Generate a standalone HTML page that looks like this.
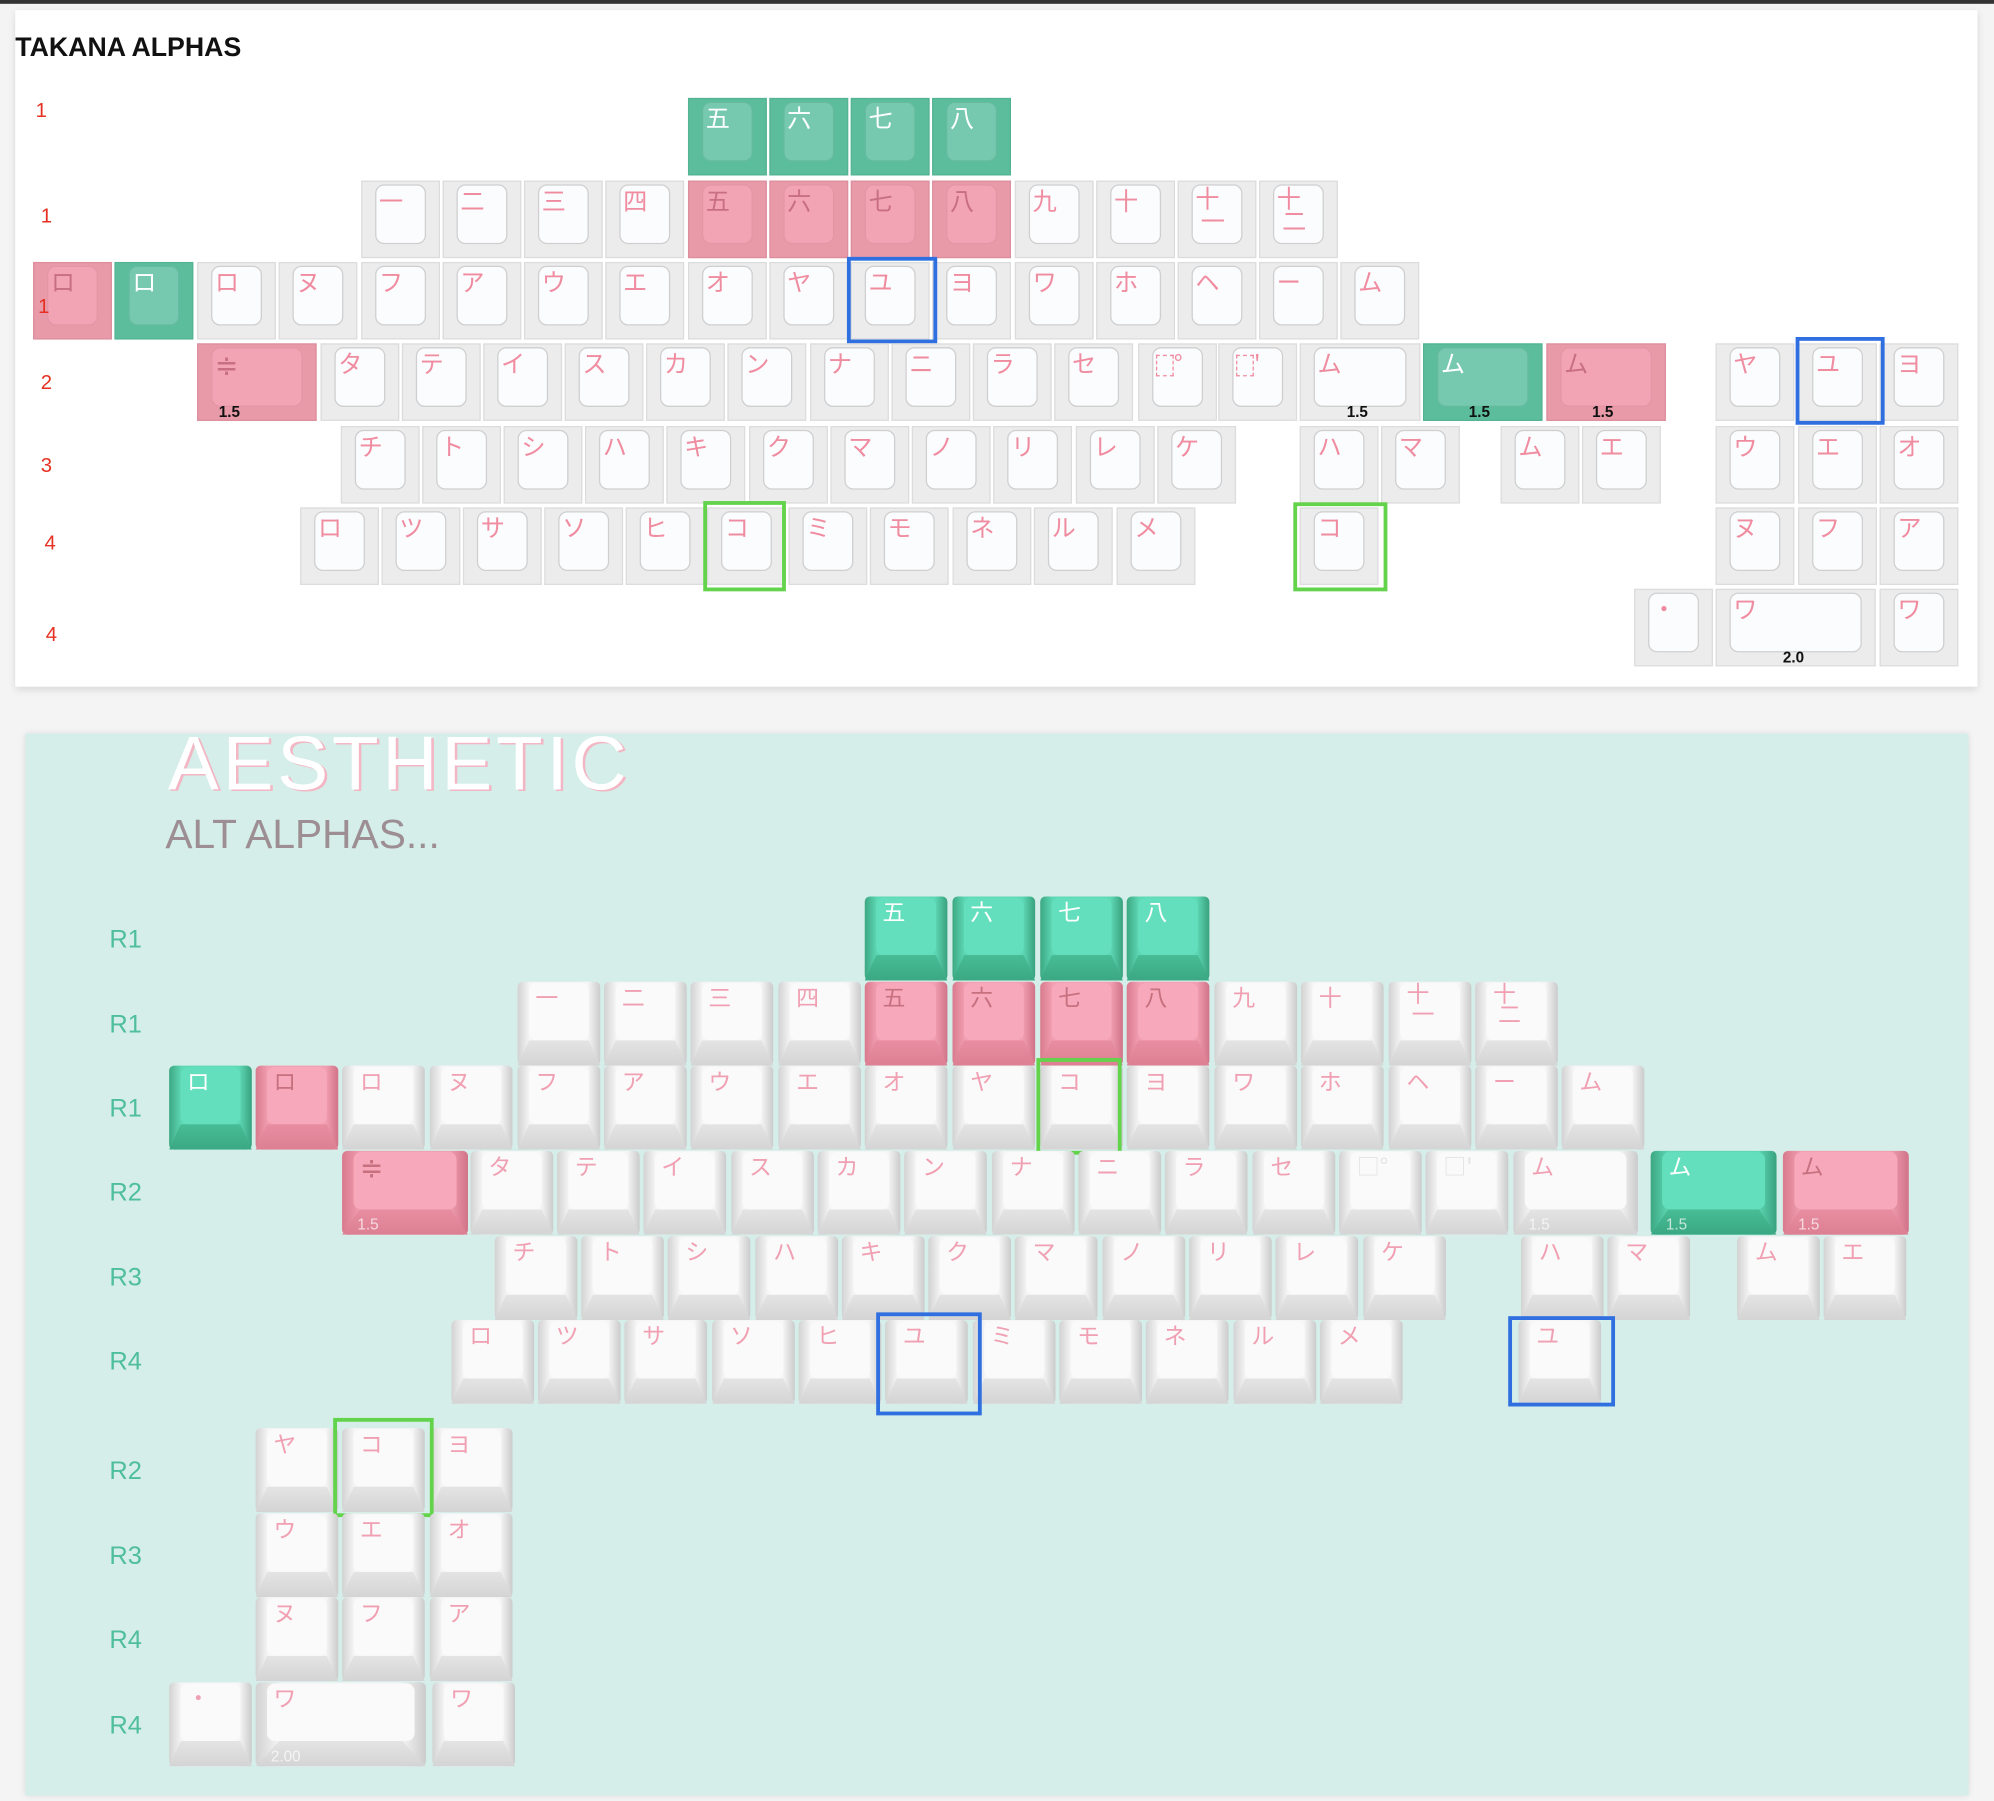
<!DOCTYPE html>
<html><head><meta charset="utf-8">
<style>
html,body{margin:0;padding:0;background:#f4f4f4;width:1994px;height:1800px;overflow:hidden}
#w{position:absolute;left:0;top:0;width:1568px;height:1416px;transform:scale(1.27168);transform-origin:0 0;font-family:"Liberation Sans","Noto Sans CJK JP",sans-serif}
.bar{position:absolute;left:0;top:0;width:1568px;height:3px;background:#333}
.card{position:absolute;left:12px;top:8px;width:1543px;height:532px;background:#fff;box-shadow:0 2px 6px rgba(0,0,0,.12)}
.mint{position:absolute;left:20px;top:577px;width:1528px;height:835px;background:#d5eee9;box-shadow:0 0 5px rgba(0,0,0,.12)}
.t{position:absolute;left:12px;top:26px;font-size:21px;font-weight:bold;color:#111}
.rl{position:absolute;color:#e53022;font-size:16px}
.gl{position:absolute;color:#4fbe9c;font-size:20px}
.k{position:absolute;width:62px;height:61px;background:#ececec;border:1px solid #dcdcdc;box-sizing:border-box}
.k b{position:absolute;left:10px;right:10px;top:2px;bottom:10px;border:1px solid #cfcfcf;border-radius:7px;background:#fbfcfe;font-weight:normal;color:#f08ca0;font-size:19px;font-family:"Noto Sans CJK JP",sans-serif;padding-left:2px;padding-top:1px;line-height:22px;box-sizing:border-box}
.k.p{background:#e89aa8;border-color:#dd8e9d}.k.p b{background:#f2a4b4;border-color:#e595a5;color:#c86f84}
.k.g{background:#5cbd9d;border-color:#53b393}.k.g b{background:#76c9ae;border-color:#66bb9f;color:#fff}
.n{position:absolute;bottom:-1px;font-size:12px;font-weight:bold;color:#111;font-family:"Liberation Sans",sans-serif}
.q{position:absolute;width:65px;height:66px;background:linear-gradient(90deg,#d2d2d2,#f6f6f6 15%,#f6f6f6 85%,#cbcbcb);border-radius:4px}
.q:after{content:"";position:absolute;left:0;right:0;bottom:0;height:20px;background:linear-gradient(#e4e4e4,#d4d4d4);clip-path:polygon(14% 0,86% 0,100% 100%,0 100%)}
.q b{position:absolute;left:9px;right:9px;top:1px;bottom:20px;background:#fafafa;border-radius:6px;font-weight:normal;color:#f0a0b2;font-size:18px;font-family:"Noto Sans CJK JP",sans-serif;padding-left:5px;line-height:22px}
.q.p{background:linear-gradient(90deg,#d97a8e,#f29fb1 15%,#f29fb1 85%,#d17388)}.q.p:after{background:linear-gradient(#e98ea2,#dc7f93)}.q.p b{background:#f7a9bb;color:#c7707f}
.q.g{background:linear-gradient(90deg,#3ca882,#5fd8b5 15%,#5fd8b5 85%,#39a17d)}.q.g:after{background:linear-gradient(#48bd95,#3aa883)}.q.g b{background:#63dfbd;color:#fff}
.m{position:absolute;bottom:1px;left:12px;font-size:12px;color:rgba(255,255,255,.7);z-index:2}
.bx{position:absolute;border:3px solid #2f6fe0;box-sizing:border-box}
.gx{position:absolute;border:3px solid #62d34a;box-sizing:border-box}
.ds{display:inline-block;width:12px;height:15px;border:1px dashed #f08ca0;vertical-align:top;margin-top:4px}
</style></head><body><div id="w">
<div class="bar"></div>
<div class="card"></div>
<div class="t">TAKANA ALPHAS</div>
<div class="rl" style="left:28px;top:79px">1</div>
<div class="rl" style="left:32px;top:162px">1</div>
<div class="rl" style="left:30px;top:233px;z-index:3">1</div>
<div class="rl" style="left:32px;top:293px">2</div>
<div class="rl" style="left:32px;top:358px">3</div>
<div class="rl" style="left:35px;top:419px">4</div>
<div class="rl" style="left:36px;top:491px">4</div>

<div class="k g" style="left:541px;top:77px"><b>五</b></div>
<div class="k g" style="left:605px;top:77px"><b>六</b></div>
<div class="k g" style="left:669px;top:77px"><b>七</b></div>
<div class="k g" style="left:733px;top:77px"><b>八</b></div>

<div class="k" style="left:284px;top:142px"><b>一</b></div>
<div class="k" style="left:348px;top:142px"><b>二</b></div>
<div class="k" style="left:412px;top:142px"><b>三</b></div>
<div class="k" style="left:476px;top:142px"><b>四</b></div>
<div class="k p" style="left:541px;top:142px"><b>五</b></div>
<div class="k p" style="left:605px;top:142px"><b>六</b></div>
<div class="k p" style="left:669px;top:142px"><b>七</b></div>
<div class="k p" style="left:733px;top:142px"><b>八</b></div>
<div class="k" style="left:798px;top:142px"><b>九</b></div>
<div class="k" style="left:862px;top:142px"><b>十</b></div>
<div class="k" style="left:926px;top:142px"><b style="line-height:18px">十<br>&nbsp;一</b></div>
<div class="k" style="left:990px;top:142px"><b style="line-height:18px">十<br>&nbsp;二</b></div>

<div class="k p" style="left:26px;top:206px"><b>ロ</b></div>
<div class="k g" style="left:90px;top:206px"><b>ロ</b></div>
<div class="k" style="left:155px;top:206px"><b>ロ</b></div>
<div class="k" style="left:219px;top:206px"><b>ヌ</b></div>
<div class="k" style="left:284px;top:206px"><b>フ</b></div>
<div class="k" style="left:348px;top:206px"><b>ア</b></div>
<div class="k" style="left:412px;top:206px"><b>ウ</b></div>
<div class="k" style="left:476px;top:206px"><b>エ</b></div>
<div class="k" style="left:541px;top:206px"><b>オ</b></div>
<div class="k" style="left:605px;top:206px"><b>ヤ</b></div>
<div class="k" style="left:669px;top:206px"><b>ユ</b></div>
<div class="k" style="left:733px;top:206px"><b>ヨ</b></div>
<div class="k" style="left:798px;top:206px"><b>ワ</b></div>
<div class="k" style="left:862px;top:206px"><b>ホ</b></div>
<div class="k" style="left:926px;top:206px"><b>ヘ</b></div>
<div class="k" style="left:990px;top:206px"><b>ー</b></div>
<div class="k" style="left:1054px;top:206px"><b>ム</b></div>
<div class="bx" style="left:666px;top:202px;width:71px;height:68px"></div>

<div class="k p" style="left:155px;top:270px;width:94px"><b style="font-size:22px">≑</b><span class="n" style="left:16px">1.5</span></div>
<div class="k" style="left:252px;top:270px"><b>タ</b></div>
<div class="k" style="left:316px;top:270px"><b>テ</b></div>
<div class="k" style="left:380px;top:270px"><b>イ</b></div>
<div class="k" style="left:444px;top:270px"><b>ス</b></div>
<div class="k" style="left:508px;top:270px"><b>カ</b></div>
<div class="k" style="left:572px;top:270px"><b>ン</b></div>
<div class="k" style="left:637px;top:270px"><b>ナ</b></div>
<div class="k" style="left:701px;top:270px"><b>ニ</b></div>
<div class="k" style="left:765px;top:270px"><b>ラ</b></div>
<div class="k" style="left:829px;top:270px"><b>セ</b></div>
<div class="k" style="left:895px;top:270px"><b><span class="ds"></span>°</b></div>
<div class="k" style="left:958px;top:270px"><b><span class="ds"></span>'</b></div>
<div class="k" style="left:1022px;top:270px;width:95px"><b>ム</b><span class="n" style="left:36px">1.5</span></div>
<div class="k g" style="left:1119px;top:270px;width:94px"><b>ム</b><span class="n" style="left:35px">1.5</span></div>
<div class="k p" style="left:1216px;top:270px;width:94px"><b>ム</b><span class="n" style="left:35px">1.5</span></div>
<div class="k" style="left:1349px;top:270px"><b>ヤ</b></div>
<div class="k" style="left:1414px;top:270px"><b>ユ</b></div>
<div class="k" style="left:1478px;top:270px"><b>ヨ</b></div>
<div class="bx" style="left:1412px;top:265px;width:70px;height:69px"></div>

<div class="k" style="left:268px;top:335px"><b>チ</b></div>
<div class="k" style="left:332px;top:335px"><b>ト</b></div>
<div class="k" style="left:396px;top:335px"><b>シ</b></div>
<div class="k" style="left:460px;top:335px"><b>ハ</b></div>
<div class="k" style="left:524px;top:335px"><b>キ</b></div>
<div class="k" style="left:589px;top:335px"><b>ク</b></div>
<div class="k" style="left:653px;top:335px"><b>マ</b></div>
<div class="k" style="left:717px;top:335px"><b>ノ</b></div>
<div class="k" style="left:781px;top:335px"><b>リ</b></div>
<div class="k" style="left:846px;top:335px"><b>レ</b></div>
<div class="k" style="left:910px;top:335px"><b>ケ</b></div>
<div class="k" style="left:1022px;top:335px"><b>ハ</b></div>
<div class="k" style="left:1086px;top:335px"><b>マ</b></div>
<div class="k" style="left:1180px;top:335px"><b>ム</b></div>
<div class="k" style="left:1244px;top:335px"><b>エ</b></div>
<div class="k" style="left:1349px;top:335px"><b>ウ</b></div>
<div class="k" style="left:1414px;top:335px"><b>エ</b></div>
<div class="k" style="left:1478px;top:335px"><b>オ</b></div>

<div class="k" style="left:236px;top:399px"><b>ロ</b></div>
<div class="k" style="left:300px;top:399px"><b>ツ</b></div>
<div class="k" style="left:364px;top:399px"><b>サ</b></div>
<div class="k" style="left:428px;top:399px"><b>ソ</b></div>
<div class="k" style="left:492px;top:399px"><b>ヒ</b></div>
<div class="k" style="left:556px;top:399px"><b>コ</b></div>
<div class="k" style="left:620px;top:399px"><b>ミ</b></div>
<div class="k" style="left:684px;top:399px"><b>モ</b></div>
<div class="k" style="left:749px;top:399px"><b>ネ</b></div>
<div class="k" style="left:813px;top:399px"><b>ル</b></div>
<div class="k" style="left:878px;top:399px"><b>メ</b></div>
<div class="k" style="left:1022px;top:399px"><b>コ</b></div>
<div class="k" style="left:1349px;top:399px"><b>ヌ</b></div>
<div class="k" style="left:1414px;top:399px"><b>フ</b></div>
<div class="k" style="left:1478px;top:399px"><b>ア</b></div>
<div class="gx" style="left:553px;top:394px;width:65px;height:71px"></div>
<div class="gx" style="left:1017px;top:395px;width:74px;height:70px"></div>

<div class="k" style="left:1285px;top:463px"><b>・</b></div>
<div class="k" style="left:1349px;top:463px;width:126px"><b>ワ</b><span class="n" style="left:52px">2.0</span></div>
<div class="k" style="left:1478px;top:463px"><b>ワ</b></div>

<div class="mint"></div>
<div style="position:absolute;left:132px;top:566px;font-size:60px;letter-spacing:3px;color:#fff;text-shadow:2px 1px 0 #f2b6c4;font-family:'Liberation Sans',sans-serif">AESTHETIC</div>
<div style="position:absolute;left:130px;top:638px;font-size:32px;color:#9c8e92">ALT ALPHAS...</div>
<div class="gl" style="left:86px;top:728px">R1</div>
<div class="gl" style="left:86px;top:795px">R1</div>
<div class="gl" style="left:86px;top:861px">R1</div>
<div class="gl" style="left:86px;top:927px">R2</div>
<div class="gl" style="left:86px;top:994px">R3</div>
<div class="gl" style="left:86px;top:1060px">R4</div>
<div class="gl" style="left:86px;top:1146px">R2</div>
<div class="gl" style="left:86px;top:1213px">R3</div>
<div class="gl" style="left:86px;top:1279px">R4</div>
<div class="gl" style="left:86px;top:1346px">R4</div>

<div class="q g" style="left:680px;top:705px"><b>五</b></div>
<div class="q g" style="left:749px;top:705px"><b>六</b></div>
<div class="q g" style="left:818px;top:705px"><b>七</b></div>
<div class="q g" style="left:886px;top:705px"><b>八</b></div>

<div class="q" style="left:407px;top:772px"><b>一</b></div>
<div class="q" style="left:475px;top:772px"><b>二</b></div>
<div class="q" style="left:543px;top:772px"><b>三</b></div>
<div class="q" style="left:612px;top:772px"><b>四</b></div>
<div class="q p" style="left:680px;top:772px"><b>五</b></div>
<div class="q p" style="left:749px;top:772px"><b>六</b></div>
<div class="q p" style="left:818px;top:772px"><b>七</b></div>
<div class="q p" style="left:886px;top:772px"><b>八</b></div>
<div class="q" style="left:955px;top:772px"><b>九</b></div>
<div class="q" style="left:1023px;top:772px"><b>十</b></div>
<div class="q" style="left:1092px;top:772px"><b style="line-height:16px">十<br>&nbsp;一</b></div>
<div class="q" style="left:1160px;top:772px"><b style="line-height:16px">十<br>&nbsp;二</b></div>

<div class="q g" style="left:133px;top:838px"><b>ロ</b></div>
<div class="q p" style="left:201px;top:838px"><b>ロ</b></div>
<div class="q" style="left:269px;top:838px"><b>ロ</b></div>
<div class="q" style="left:338px;top:838px"><b>ヌ</b></div>
<div class="q" style="left:407px;top:838px"><b>フ</b></div>
<div class="q" style="left:475px;top:838px"><b>ア</b></div>
<div class="q" style="left:543px;top:838px"><b>ウ</b></div>
<div class="q" style="left:612px;top:838px"><b>エ</b></div>
<div class="q" style="left:680px;top:838px"><b>オ</b></div>
<div class="q" style="left:749px;top:838px"><b>ヤ</b></div>
<div class="q" style="left:818px;top:838px"><b>コ</b></div>
<div class="q" style="left:886px;top:838px"><b>ヨ</b></div>
<div class="q" style="left:955px;top:838px"><b>ワ</b></div>
<div class="q" style="left:1023px;top:838px"><b>ホ</b></div>
<div class="q" style="left:1092px;top:838px"><b>ヘ</b></div>
<div class="q" style="left:1160px;top:838px"><b>ー</b></div>
<div class="q" style="left:1228px;top:838px"><b>ム</b></div>
<div class="gx" style="left:815px;top:832px;width:67px;height:76px"></div>

<div class="q p" style="left:269px;top:905px;width:99px"><b style="font-size:22px">≑</b><span class="m">1.5</span></div>
<div class="q" style="left:370px;top:905px"><b>タ</b></div>
<div class="q" style="left:438px;top:905px"><b>テ</b></div>
<div class="q" style="left:506px;top:905px"><b>イ</b></div>
<div class="q" style="left:575px;top:905px"><b>ス</b></div>
<div class="q" style="left:643px;top:905px"><b>カ</b></div>
<div class="q" style="left:711px;top:905px"><b>ン</b></div>
<div class="q" style="left:780px;top:905px"><b>ナ</b></div>
<div class="q" style="left:848px;top:905px"><b>ニ</b></div>
<div class="q" style="left:916px;top:905px"><b>ラ</b></div>
<div class="q" style="left:985px;top:905px"><b>セ</b></div>
<div class="q" style="left:1053px;top:905px"><b style="color:#e4e4e4">□°</b></div>
<div class="q" style="left:1121px;top:905px"><b style="color:#e4e4e4">□'</b></div>
<div class="q" style="left:1190px;top:905px;width:98px"><b>ム</b><span class="m">1.5</span></div>
<div class="q g" style="left:1298px;top:905px;width:99px"><b>ム</b><span class="m">1.5</span></div>
<div class="q p" style="left:1402px;top:905px;width:99px"><b>ム</b><span class="m">1.5</span></div>

<div class="q" style="left:389px;top:972px"><b>チ</b></div>
<div class="q" style="left:457px;top:972px"><b>ト</b></div>
<div class="q" style="left:525px;top:972px"><b>シ</b></div>
<div class="q" style="left:594px;top:972px"><b>ハ</b></div>
<div class="q" style="left:662px;top:972px"><b>キ</b></div>
<div class="q" style="left:730px;top:972px"><b>ク</b></div>
<div class="q" style="left:798px;top:972px"><b>マ</b></div>
<div class="q" style="left:867px;top:972px"><b>ノ</b></div>
<div class="q" style="left:935px;top:972px"><b>リ</b></div>
<div class="q" style="left:1003px;top:972px"><b>レ</b></div>
<div class="q" style="left:1072px;top:972px"><b>ケ</b></div>
<div class="q" style="left:1196px;top:972px"><b>ハ</b></div>
<div class="q" style="left:1264px;top:972px"><b>マ</b></div>
<div class="q" style="left:1366px;top:972px"><b>ム</b></div>
<div class="q" style="left:1434px;top:972px"><b>エ</b></div>

<div class="q" style="left:355px;top:1038px"><b>ロ</b></div>
<div class="q" style="left:423px;top:1038px"><b>ツ</b></div>
<div class="q" style="left:491px;top:1038px"><b>サ</b></div>
<div class="q" style="left:560px;top:1038px"><b>ソ</b></div>
<div class="q" style="left:628px;top:1038px"><b>ヒ</b></div>
<div class="q" style="left:696px;top:1038px"><b>ユ</b></div>
<div class="q" style="left:765px;top:1038px"><b>ミ</b></div>
<div class="q" style="left:833px;top:1038px"><b>モ</b></div>
<div class="q" style="left:901px;top:1038px"><b>ネ</b></div>
<div class="q" style="left:970px;top:1038px"><b>ル</b></div>
<div class="q" style="left:1038px;top:1038px"><b>メ</b></div>
<div class="q" style="left:1194px;top:1038px"><b>ユ</b></div>
<div class="bx" style="left:689px;top:1032px;width:83px;height:81px"></div>
<div class="bx" style="left:1186px;top:1035px;width:84px;height:71px"></div>

<div class="q" style="left:201px;top:1123px"><b>ヤ</b></div>
<div class="q" style="left:269px;top:1123px"><b>コ</b></div>
<div class="q" style="left:338px;top:1123px"><b>ヨ</b></div>
<div class="gx" style="left:262px;top:1115px;width:79px;height:78px"></div>
<div class="q" style="left:201px;top:1190px"><b>ウ</b></div>
<div class="q" style="left:269px;top:1190px"><b>エ</b></div>
<div class="q" style="left:338px;top:1190px"><b>オ</b></div>
<div class="q" style="left:201px;top:1256px"><b>ヌ</b></div>
<div class="q" style="left:269px;top:1256px"><b>フ</b></div>
<div class="q" style="left:338px;top:1256px"><b>ア</b></div>
<div class="q" style="left:133px;top:1323px"><b>・</b></div>
<div class="q" style="left:201px;top:1323px;width:134px"><b>ワ</b><span class="m">2.00</span></div>
<div class="q" style="left:340px;top:1323px"><b>ワ</b></div>
</div></body></html>
